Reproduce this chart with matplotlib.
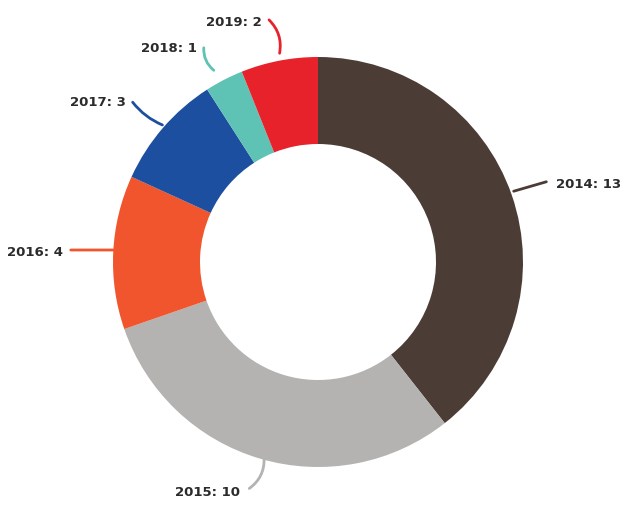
import matplotlib
matplotlib.use("Agg")
import matplotlib.pyplot as plt

## Data
years = ["2014", "2015", "2016", "2017", "2018", "2019"]
counts = [13, 10, 4, 3, 1, 2]
colors = ["#4b3d36", "#b4b3b1", "#f1552d", "#1c4f9f", "#5ec3b4", "#e8222b"]

## Label placement (pixels): text anchor, line start, line end on ring
label_xy = [(556, 185), (240, 492), (63, 252), (126, 103), (197, 48), (262, 22)]
line_pts = [((549, 181), (511, 192)), ((247, 490), (264, 456)),
            ((68, 250), (117, 250)), ((131, 100), (165, 126)),
            ((204, 45), (216, 72)), ((267, 18), (279, 56))]
aligns = ["left", "right", "right", "right", "right", "right"]
rads = [0.0, 0.3, 0.0, 0.15, 0.3, -0.3]

W, H = 622, 505
cx, cy, R = 318, 262, 205

fig = plt.figure(figsize=(W / 100, H / 100), dpi=100)
ax = fig.add_axes([0, 0, 1, 1])
ax.set_xlim(0, W)
ax.set_ylim(H, 0)
ax.set_aspect("equal")
ax.axis("off")

ax.pie(counts, colors=colors, startangle=90, counterclock=False,
       center=(cx, -cy), radius=R, wedgeprops=dict(width=87, linewidth=0),
       frame=True)
ax.set_xlim(0, W)
ax.set_ylim(-H, 0)
ax.axis("off")

for yr, n, c, (tx, ty), (p0, p1), ha, rad in zip(years, counts, colors, label_xy, line_pts, aligns, rads):
    ax.annotate("", xy=(p1[0], -p1[1]), xytext=(p0[0], -p0[1]),
                arrowprops=dict(arrowstyle="-", color=c, lw=2,
                                connectionstyle="arc3,rad=%s" % rad))
    ax.text(tx, -ty, "%s: %d" % (yr, n), ha=ha, va="center",
            fontsize=9.5, fontweight="bold", color="#2b2b2b",
            family=["Liberation Sans Narrow", "DejaVu Sans"])

fig.savefig("out.png", dpi=100)
